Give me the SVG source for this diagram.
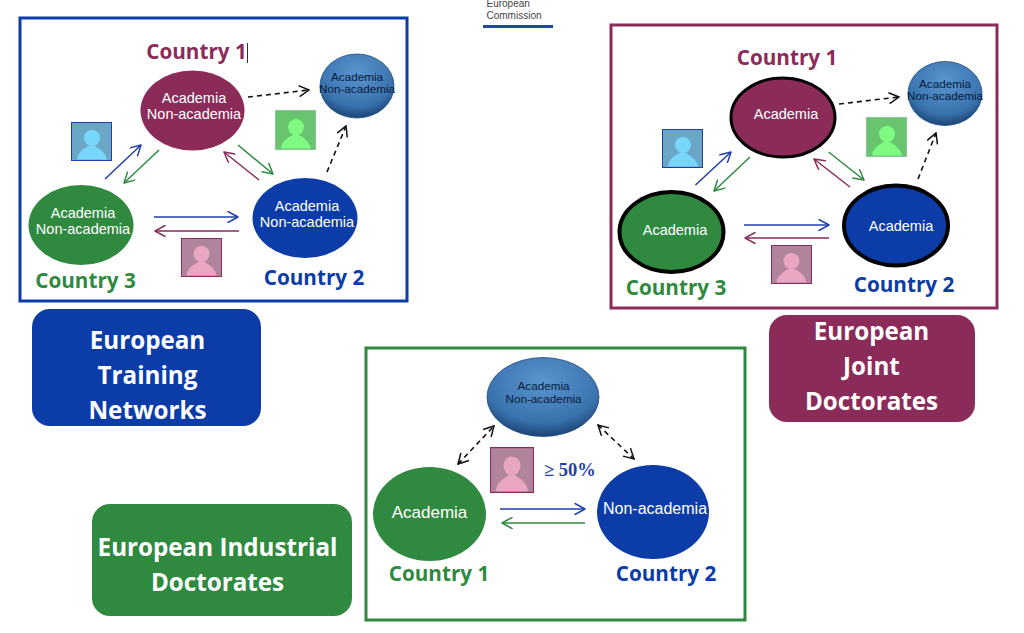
<svg xmlns="http://www.w3.org/2000/svg" width="1024" height="633" viewBox="0 0 1024 633">
<style>
.f{fill:#fff;stroke-width:3}
.t{font-family:"Liberation Sans",Arial,sans-serif;font-size:14.5px;text-anchor:middle}
.w{fill:#fff}
.k{fill:#071a3c}
.s{font-size:11.7px}
.l{font-size:17px}
.n{font-size:16px}
.c{font-family:"Open Sans","Noto Sans",sans-serif;font-weight:700;font-size:20.7px;text-anchor:middle}
.b{font-family:"Open Sans","Noto Sans",sans-serif;font-weight:700;font-size:24.2px;text-anchor:middle;fill:#fff}
.a{fill:none;stroke-width:1.5}
.d{fill:none;stroke:#111;stroke-width:1.6;stroke-dasharray:5 4}
.blu{stroke:#1f3fa6}.grn{stroke:#2f8a3f}.mar{stroke:#8a2b5a}
.ha{fill:none;stroke-width:1.5;stroke-linecap:round;stroke-linejoin:round}
.ball{fill:url(#ball);stroke:#1f4d80;stroke-width:.8}
</style>
<defs>
<radialGradient id="ball" cx="50%" cy="30%" r="72%"><stop offset="0" stop-color="#5a95d0"/><stop offset=".72" stop-color="#3a72ae"/><stop offset="1" stop-color="#173f6e"/></radialGradient>
<marker id="mb" viewBox="0 0 12 12" refX="11" refY="6" markerWidth="12" markerHeight="12" markerUnits="userSpaceOnUse" orient="auto-start-reverse"><path d="M1 .5L11 6L1 11.5" class="ha blu"/></marker>
<marker id="mg" viewBox="0 0 12 12" refX="11" refY="6" markerWidth="12" markerHeight="12" markerUnits="userSpaceOnUse" orient="auto-start-reverse"><path d="M1 .5L11 6L1 11.5" class="ha grn"/></marker>
<marker id="mm" viewBox="0 0 12 12" refX="11" refY="6" markerWidth="12" markerHeight="12" markerUnits="userSpaceOnUse" orient="auto-start-reverse"><path d="M1 .5L11 6L1 11.5" class="ha mar"/></marker>
<marker id="mk" viewBox="0 0 12 12" refX="11" refY="6" markerWidth="12" markerHeight="12" markerUnits="userSpaceOnUse" orient="auto-start-reverse"><path d="M1 .5L11 6L1 11.5" fill="none" stroke="#111" stroke-width="1.5"/></marker>
<g id="pb"><rect x=".5" y=".5" width="40" height="38" fill="#6aa7c6" stroke="#1f3fa6"/><circle cx="21" cy="16" r="8" fill="#79d6fb"/><path d="M6 37.5C7 29 13 27 21 22C28 27 34 29 36 37.5Z" fill="#79d6fb"/></g>
<g id="pg"><rect x=".5" y=".5" width="40" height="39" fill="#68c46e" stroke="#8cc79a"/><circle cx="21" cy="17" r="8" fill="#7ffb82"/><path d="M6 38.5C7 30 13 28 21 23C28 28 34 30 36 38.5Z" fill="#7ffb82"/></g>
<g id="pp"><rect x=".5" y=".5" width="40" height="38" fill="#b0849c" stroke="#8a2b5a"/><circle cx="20.5" cy="16" r="8" fill="#e8a6c2"/><path d="M5.5 37.5C6.500 29 13 27 20.500 22C28 27 34 29 35.500 37.500Z" fill="#e8a6c2"/></g>
</defs>
<rect width="1024" height="633" fill="#fff"/>

<g id="logo">
<text x="486.500" y="7" font-family="'Liberation Sans',Arial,sans-serif" font-size="10" fill="#444">European</text>
<text x="486.500" y="19" font-family="'Liberation Sans',Arial,sans-serif" font-size="10" fill="#444">Commission</text>
<rect x="483" y="25" width="70" height="3" fill="#1f4a9c"/>
</g>

<g id="frame-etn"><rect x="20" y="18" width="387" height="283" class="f" stroke="#0b3ca8"/></g>
<g id="frame-ejd"><rect x="611" y="25" width="386" height="283" class="f" stroke="#8a2b5a"/></g>
<g id="frame-eid"><rect x="366" y="348" width="379" height="272" class="f" stroke="#2f8a3f"/></g>

<g id="connectors">
<path d="M105 179L141 145" class="a blu" marker-end="url(#mb)"/>
<path d="M159 150L124 183" class="a grn" marker-end="url(#mg)"/>
<path d="M238 145L273 174" class="a grn" marker-end="url(#mg)"/>
<path d="M259 180L224 152" class="a mar" marker-end="url(#mm)"/>
<path d="M154 217L238 217" class="a blu" marker-end="url(#mb)"/>
<path d="M239 231L155 231" class="a mar" marker-end="url(#mm)"/>
<path d="M248 97L309 90" class="d" marker-end="url(#mk)"/>
<path d="M327 172L346 126" class="d" marker-end="url(#mk)"/>

<path d="M695.500 185L731 152" class="a blu" marker-end="url(#mb)"/>
<path d="M750 157L714 191" class="a grn" marker-end="url(#mg)"/>
<path d="M828.600 152L864 180" class="a grn" marker-end="url(#mg)"/>
<path d="M850 187L814 159" class="a mar" marker-end="url(#mm)"/>
<path d="M744 225L829 225" class="a blu" marker-end="url(#mb)"/>
<path d="M829 238L745 238" class="a mar" marker-end="url(#mm)"/>
<path d="M839 104L899 97" class="d" marker-end="url(#mk)"/>
<path d="M918 179L936 133" class="d" marker-end="url(#mk)"/>

<path d="M500 509L585 509" class="a blu" marker-end="url(#mb)"/>
<path d="M585 523L502 523" class="a grn" marker-end="url(#mg)"/>
<path d="M458 464L494 426" class="d" marker-start="url(#mk)" marker-end="url(#mk)"/>
<path d="M598 425L634 459" class="d" marker-start="url(#mk)" marker-end="url(#mk)"/>
</g>

<g id="etn-c1">
<text x="196.500" y="59" class="c" fill="#8a2b5a">Country 1</text>
<path d="M247.500 43V63" stroke="#333" stroke-width="1"/>
<ellipse cx="192.500" cy="110.500" rx="52" ry="40" fill="#8a2b5a"/>
<text x="194" y="103" class="t w">Academia</text><text x="194" y="119" class="t w">Non-academia</text>
</g>
<g id="etn-c3">
<ellipse cx="81" cy="225" rx="52.500" ry="40" fill="#2f8a3f"/>
<text x="83" y="218" class="t w">Academia</text><text x="83" y="234" class="t w">Non-academia</text>
<text x="85.500" y="288" class="c" fill="#2f8a3f">Country 3</text>
</g>
<g id="etn-c2">
<ellipse cx="305" cy="218" rx="52.500" ry="40" fill="#0b3ca8"/>
<text x="307" y="211" class="t w">Academia</text><text x="307" y="227" class="t w">Non-academia</text>
<text x="314" y="285" class="c" fill="#0b3ca8">Country 2</text>
</g>
<g id="etn-ext">
<ellipse cx="357" cy="86" rx="37" ry="32" class="ball"/>
<text x="357" y="81" class="t k s">Academia</text><text x="357" y="93" class="t k s">Non-academia</text>
</g>
<g id="etn-people"><use href="#pb" x="71" y="122"/><use href="#pg" x="275" y="110"/><use href="#pp" x="181" y="238"/></g>

<g id="ejd-c1">
<text x="787" y="65" class="c" fill="#8a2b5a">Country 1</text>
<ellipse cx="783" cy="117.500" rx="52" ry="39.500" fill="#8a2b5a" stroke="#000" stroke-width="3"/>
<text x="786" y="119" class="t w">Academia</text>
</g>
<g id="ejd-c3">
<ellipse cx="671.500" cy="232" rx="52" ry="40" fill="#2f8a3f" stroke="#000" stroke-width="4"/>
<text x="675" y="235" class="t w">Academia</text>
<text x="676" y="295" class="c" fill="#2f8a3f">Country 3</text>
</g>
<g id="ejd-c2">
<ellipse cx="896" cy="225.500" rx="52" ry="40" fill="#0b3ca8" stroke="#000" stroke-width="4"/>
<text x="901" y="231" class="t w">Academia</text>
<text x="904" y="292" class="c" fill="#0b3ca8">Country 2</text>
</g>
<g id="ejd-ext">
<ellipse cx="945" cy="93.500" rx="37" ry="32" class="ball"/>
<text x="945" y="88" class="t k s">Academia</text><text x="945" y="100" class="t k s">Non-academia</text>
</g>
<g id="ejd-people"><use href="#pb" x="662" y="129"/><use href="#pg" x="866" y="117"/><use href="#pp" x="771" y="245"/></g>

<g id="eid-ext">
<ellipse cx="543" cy="397" rx="56" ry="39.500" class="ball"/>
<text x="543.500" y="390" class="t k s">Academia</text><text x="543.500" y="403" class="t k s">Non-academia</text>
</g>
<g id="eid-c1">
<ellipse cx="429.500" cy="514" rx="56.500" ry="47" fill="#2f8a3f"/>
<text x="429.500" y="518" class="t w l">Academia</text>
<text x="439" y="581" class="c" fill="#2f8a3f">Country 1</text>
</g>
<g id="eid-c2">
<ellipse cx="653" cy="512" rx="56" ry="47" fill="#0b3ca8"/>
<text x="655" y="514" class="t w n">Non-academia</text>
<text x="666" y="581" class="c" fill="#0b3ca8">Country 2</text>
</g>
<g id="eid-person">
<svg x="490" y="447" width="44" height="46" viewBox="0 0 41 39" preserveAspectRatio="none"><use href="#pp"/></svg>
<text x="544" y="476" font-family="'Liberation Serif','Times New Roman',serif" font-weight="700" font-size="18.500" fill="#1f3fa6">≥ 50%</text>
</g>

<g id="box-etn"><rect x="32" y="309" width="229" height="117" rx="18" fill="#0b3ca8"/>
<text x="147.500" y="349" class="b">European</text><text x="147.500" y="384" class="b">Training</text><text x="147.500" y="419" class="b">Networks</text></g>
<g id="box-ejd"><rect x="769" y="315" width="206" height="107" rx="18" fill="#8a2b5a"/>
<text x="871.500" y="340" class="b">European</text><text x="871.500" y="375" class="b">Joint</text><text x="871.500" y="410" class="b">Doctorates</text></g>
<g id="box-eid"><rect x="92" y="504" width="260" height="112" rx="18" fill="#2f8a3f"/>
<text x="217.500" y="556" class="b">European Industrial</text><text x="217.500" y="591" class="b">Doctorates</text></g>
</svg>
